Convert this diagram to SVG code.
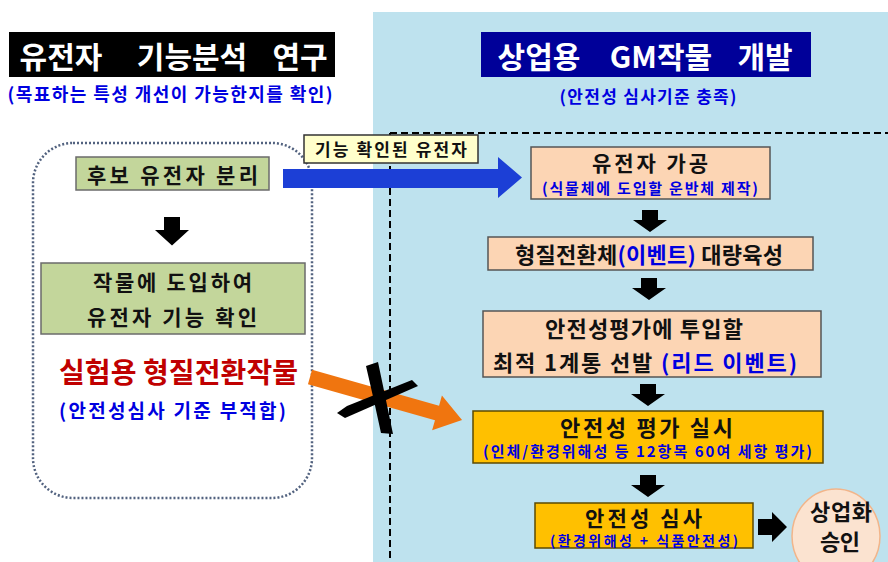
<svg xmlns="http://www.w3.org/2000/svg" xmlns:xlink="http://www.w3.org/1999/xlink" width="888" height="562" viewBox="0 0 888 562">
<style>
text{font-family:"Noto Sans CJK KR","Noto Sans",sans-serif;font-weight:bold;dominant-baseline:central;text-anchor:middle}
.t{fill:#111}
.blue{fill:#0000E0}
.white{fill:#fff}
.green{fill:#C3D69B;stroke:#6B6B6B;stroke-width:1.5}
.peach{fill:#FCD5B4;stroke:#555;stroke-width:1.5}
.gold{fill:#FFC000;stroke:#5C4A00;stroke-width:1.5}
</style>
<defs>
<path id="darr" d="M-8,0 H8 V10 H17 L0,22 L-17,10 H-8 Z"/>
</defs>
<rect width="888" height="562" fill="#fff"/>
<rect x="373" y="12" width="515" height="550" fill="#BEE2EE"/>
<path d="M390 133 H888 M390 133 V562" fill="none" stroke="#000" stroke-width="2" stroke-dasharray="7 4"/>

<g id="left-title">
<rect x="9" y="32" width="326" height="45" fill="#000"/>
<text class="white" y="55" font-size="30"><tspan x="61">유전자</tspan><tspan x="192">기능분석</tspan><tspan x="300">연구</tspan></text>
<text class="blue" x="170" y="93" font-size="18" textLength="325" lengthAdjust="spacing">(목표하는 특성 개선이 가능한지를 확인)</text>
</g>

<g id="right-title">
<rect x="481" y="32" width="330" height="45" fill="#000099"/>
<text class="white" y="55" font-size="30"><tspan x="539">상업용</tspan><tspan x="661">GM작물</tspan><tspan x="765">개발</tspan></text>
<text class="blue" x="648" y="95" font-size="17" textLength="177" lengthAdjust="spacing">(안전성 심사기준 충족)</text>
</g>

<g id="research-group">
<rect x="33" y="143" width="279" height="355" rx="40" fill="none" stroke="#52627F" stroke-width="2.5" stroke-dasharray="2 2"/>
</g>

<g id="connectors">
<use href="#darr" transform="translate(172,217) scale(1,1.3)"/>
<polygon points="283,169 498,169 498,157 522,177.5 498,198 498,188 283,188" fill="#1C3FD6"/>
<polygon transform="translate(310,377) rotate(15.8)" points="0,-7.5 132,-7.5 132,-18 158,0 132,18 132,7.5 0,7.5" fill="#F0750F"/>
<path d="M366,366 L378,362 Q386,400 393,434 L381,433 Q374,400 366,366 Z" fill="#000"/>
<path d="M337,413 L347,406 L412,380 L418,386 L345,418 Z" fill="#000"/>
<use href="#darr" transform="translate(650,210)"/>
<use href="#darr" transform="translate(649,278)"/>
<use href="#darr" transform="translate(648,384)"/>
<use href="#darr" transform="translate(648,475)"/>
<path d="M758,519 H772 V512 L787,527 L772,542 V535 H758 Z" fill="#000"/>
</g>

<g id="candidate">
<rect class="green" x="76" y="157" width="193" height="33"/>
<text class="t" x="172.5" y="173.5" font-size="21" textLength="171" lengthAdjust="spacing">후보 유전자 분리</text>
</g>

<g id="function-check">
<rect class="green" x="41" y="263" width="264" height="71"/>
<text class="t" x="172.5" y="281" font-size="21" textLength="159" lengthAdjust="spacing">작물에 도입하여</text>
<text class="t" x="172" y="316" font-size="21" textLength="170" lengthAdjust="spacing">유전자 기능 확인</text>
</g>

<g id="experimental-crop">
<text x="178.5" y="371" font-size="28" fill="#C00000" textLength="239" lengthAdjust="spacing">실험용 형질전환작물</text>
<text class="blue" x="172.5" y="409" font-size="19" textLength="227" lengthAdjust="spacing">(안전성심사 기준 부적합)</text>
</g>

<g id="confirmed-label">
<rect x="304" y="135" width="174" height="28" fill="#FFFFCC" stroke="#333" stroke-width="1.5"/>
<text class="t" x="391" y="148.5" font-size="17" textLength="152" lengthAdjust="spacing">기능 확인된 유전자</text>
</g>

<g id="gene-processing">
<rect class="peach" x="531" y="147" width="239" height="52"/>
<text class="t" x="650" y="162" font-size="21" textLength="116" lengthAdjust="spacing">유전자 가공</text>
<text class="blue" x="650" y="187" font-size="15" textLength="216" lengthAdjust="spacing">(식물체에 도입할 운반체 제작)</text>
</g>

<g id="mass-breeding">
<rect class="peach" x="488" y="237" width="325" height="33"/>
<text class="t" x="649" y="253" font-size="22" textLength="268" lengthAdjust="spacing">형질전환체<tspan class="blue">(이벤트)</tspan> 대량육성</text>
</g>

<g id="lead-selection">
<rect class="peach" x="483" y="311" width="338" height="66"/>
<text class="t" x="644" y="327" font-size="22" textLength="198" lengthAdjust="spacing">안전성평가에 투입할</text>
<text class="t" x="645" y="361" font-size="22" textLength="304" lengthAdjust="spacing">최적 1계통 선발 <tspan class="blue">(리드 이벤트)</tspan></text>
</g>

<g id="safety-eval">
<rect class="gold" x="473" y="411" width="350" height="52"/>
<text class="t" x="646.5" y="425.5" font-size="22" textLength="173" lengthAdjust="spacing">안전성 평가 실시</text>
<text class="blue" x="647.5" y="450" font-size="15" textLength="329" lengthAdjust="spacing">(인체/환경위해성 등 12항목 60여 세항 평가)</text>
</g>

<g id="safety-review">
<rect class="gold" x="535" y="503" width="218" height="45"/>
<text class="t" x="643.5" y="517" font-size="21" textLength="117" lengthAdjust="spacing">안전성 심사</text>
<text class="blue" x="644" y="539.5" font-size="14" textLength="188" lengthAdjust="spacing">(환경위해성 + 식품안전성)</text>
</g>

<g id="approval">
<ellipse cx="836" cy="536" rx="44" ry="47" fill="#FBE3D0" stroke="#F2B58A" stroke-width="1.5"/>
<text class="t" x="841" y="510" font-size="22" textLength="62" lengthAdjust="spacing">상업화</text>
<text class="t" x="840" y="540" font-size="22" textLength="40" lengthAdjust="spacing">승인</text>
</g>
</svg>
